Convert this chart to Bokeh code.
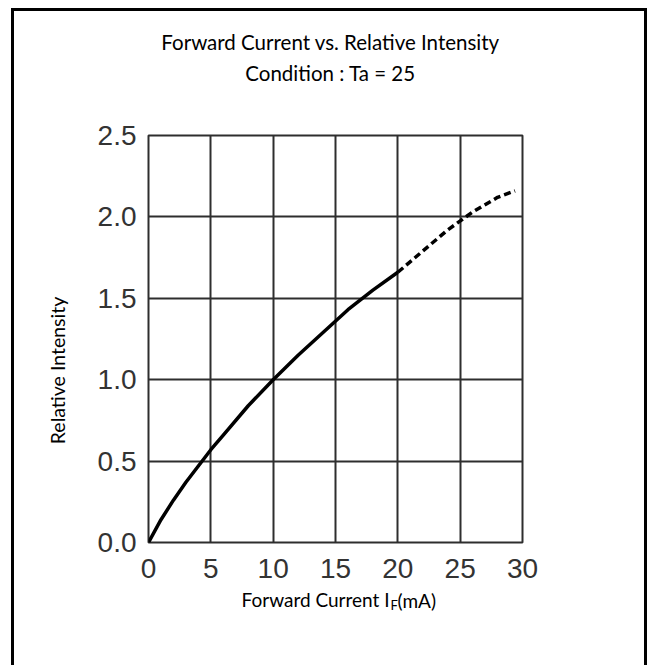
import math
from bokeh.plotting import figure
from bokeh.models import Range1d, FixedTicker, NumeralTickFormatter, Label
from bokeh.embed import file_html
from bokeh.resources import INLINE

try:
    from bokeh.models import GlobalInlineStyleSheet
except Exception:  # pragma: no cover
    GlobalInlineStyleSheet = None

# ---- data ----
current_solid = [0, 1, 2, 3, 4, 5, 6, 8, 10, 12, 14, 16, 18, 20]
intensity_solid = [0.0, 0.14, 0.26, 0.37, 0.47, 0.57, 0.66, 0.84, 1.00, 1.15, 1.29, 1.43, 1.55, 1.66]
current_dashed = [20, 22, 24, 26, 28, 29.4]
intensity_dashed = [1.66, 1.79, 1.92, 2.03, 2.12, 2.16]
x_ticks = [0, 5, 10, 15, 20, 25, 30]
y_ticks = [0.0, 0.5, 1.0, 1.5, 2.0, 2.5]

title_line1 = "Forward Current vs. Relative Intensity"
title_line2 = "Condition : Ta = 25"
x_title_main = "Forward Current I"
x_title_sub = "F"
x_title_unit = "(mA)"
y_title = "Relative Intensity"

TITLE_FONT = "Lato"
TICK_FONT = "Liberation Sans"
GRID = "#2e2e2e"

p = figure(width=640, height=665, output_backend="svg", toolbar_location=None,
           x_range=Range1d(0, 30), y_range=Range1d(0, 2.5),
           min_border_left=148, min_border_right=118,
           min_border_top=135, min_border_bottom=123)

# outer black frame of the figure sheet (left, top, right edges; bottom off-page)
if GlobalInlineStyleSheet is not None:
    frame_css = (
        "body::before { content: ''; position: fixed; left: 11px; top: 8px; "
        "width: 636px; height: 720px; box-sizing: border-box; "
        "border: 3px solid black; pointer-events: none; z-index: 1000; }"
    )
    p.stylesheets = [GlobalInlineStyleSheet(css=frame_css)]

p.outline_line_color = GRID
p.outline_line_width = 2

for ax in (p.xaxis[0], p.yaxis[0]):
    ax.axis_line_color = None
    ax.major_tick_line_color = None
    ax.minor_tick_line_color = None
    ax.major_tick_in = 0
    ax.major_tick_out = 0
    ax.major_label_text_font = TICK_FONT
    ax.major_label_text_font_size = "28px"
    ax.major_label_text_color = "#333333"

p.xaxis[0].ticker = FixedTicker(ticks=x_ticks)
p.yaxis[0].ticker = FixedTicker(ticks=y_ticks)
p.yaxis[0].formatter = NumeralTickFormatter(format="0.0")
p.xaxis[0].major_label_standoff = 16
p.yaxis[0].major_label_standoff = 12

p.xgrid[0].ticker = FixedTicker(ticks=x_ticks)
p.ygrid[0].ticker = FixedTicker(ticks=y_ticks)
for g in (p.xgrid[0], p.ygrid[0]):
    g.grid_line_color = GRID
    g.grid_line_width = 2
    g.grid_line_alpha = 1.0

p.line(current_solid, intensity_solid, line_color="black", line_width=3.5)
p.line(current_dashed, intensity_dashed, line_color="black", line_width=3.5,
       line_dash="7 4")

# ---- titles (above panel; first added sits next to the plot frame) ----
p.add_layout(Label(x=182, y=63, x_units="screen", y_units="screen",
                   text=title_line2, text_align="center", text_baseline="middle",
                   text_font=TITLE_FONT, text_font_size="20.5px",
                   text_color="black"), "above")
p.add_layout(Label(x=182, y=70, x_units="screen", y_units="screen",
                   text=title_line1, text_align="center", text_baseline="middle",
                   text_font=TITLE_FONT, text_font_size="20.5px",
                   text_color="black"), "above")

# ---- y-axis title (left panel) ----
p.add_layout(Label(x=-14, y=172, x_units="screen", y_units="screen",
                   text=y_title, angle=math.pi / 2, text_align="center",
                   text_baseline="middle", text_font=TITLE_FONT,
                   text_font_size="19.5px", text_color="black"), "left")

# ---- x-axis title with subscript (below panel) ----
p.add_layout(Label(x=241, y=4, x_units="screen", y_units="screen",
                   text=x_title_main, text_align="right", text_baseline="alphabetic",
                   text_font=TITLE_FONT, text_font_size="19px", text_color="black"),
             "below")
p.add_layout(Label(x=242, y=15, x_units="screen", y_units="screen",
                   text=x_title_sub, text_align="left", text_baseline="alphabetic",
                   text_font=TITLE_FONT, text_font_size="13px", text_color="black"),
             "below")
p.add_layout(Label(x=249, y=42, x_units="screen", y_units="screen",
                   text=x_title_unit, text_align="left", text_baseline="alphabetic",
                   text_font=TITLE_FONT, text_font_size="19px", text_color="black"),
             "below")

open("out.html", "w").write(file_html(p, INLINE))
